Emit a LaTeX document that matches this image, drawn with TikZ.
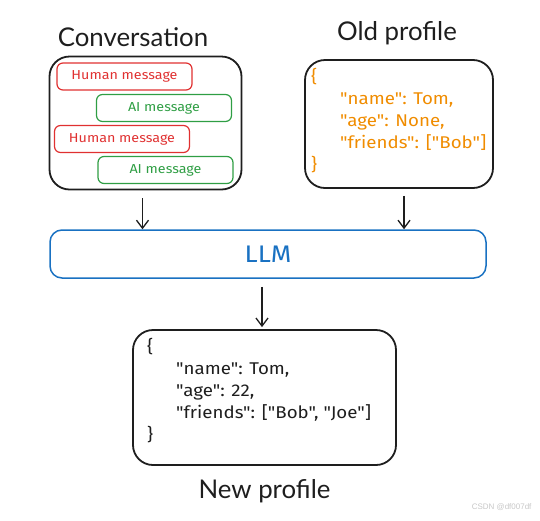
\documentclass[tikz,border=0pt]{standalone}
\usepackage{xcolor}
\usepackage{fontspec}
\usepackage{tikz}
\usetikzlibrary{arrows.meta, positioning}
\newfontfamily\titlefont{Lato}
\newfontfamily\handfont[FakeStretch=1.1]{Fira Sans}
\newfontfamily\markfont{Liberation Sans}
\definecolor{inkblack}{HTML}{1E1E1E}
\definecolor{inkred}{HTML}{E03131}
\definecolor{inkgreen}{HTML}{2F9E44}
\definecolor{inkblue}{HTML}{1971C2}
\definecolor{inkorange}{HTML}{F08C00}
\tikzstyle{panel} = [rectangle, rounded corners=20pt, line width=1.8pt, draw=inkblack, inner sep=0pt]
\tikzstyle{human} = [rectangle, rounded corners=6pt, minimum width=135pt, minimum height=27pt, text centered, line width=1.2pt, draw=inkred, text=inkred, font=\handfont\fontsize{13}{15}\selectfont]
\tikzstyle{ai} = [rectangle, rounded corners=6pt, minimum width=135pt, minimum height=27pt, text centered, line width=1.2pt, draw=inkgreen, text=inkgreen, font=\handfont\fontsize{13}{15}\selectfont]
\tikzstyle{model} = [rectangle, rounded corners=12pt, minimum width=436pt, minimum height=48pt, text centered, line width=1.5pt, draw=inkblue, text=inkblue, font=\handfont\fontsize{24}{26}\selectfont]
\tikzstyle{title} = [inner sep=0pt, text=inkblack, font=\titlefont\fontsize{25.8}{28}\selectfont]
\tikzstyle{json} = [inner sep=0pt, anchor=north west, align=left, font=\handfont\fontsize{17}{22}\selectfont]
\tikzstyle{arrow} = [line width=1.3pt, draw=inkblack, -{Straight Barb[length=8pt, width=12pt]}]

\begin{document}
\begin{tikzpicture}[x=1pt, y=-1pt]
        \useasboundingbox (0,0) rectangle (540,520);

        \node (conv) [panel, minimum width=192pt, minimum height=133pt] at (145.5,123) {};
        \node (old) [panel, minimum width=188pt, minimum height=128pt] at (399,124) {};
        \node (llm) [model] at (268,254) {LLM};
        \node (new) [panel, minimum width=263pt, minimum height=135pt] at (264.5,397.5) {};

        \node (convtitle) [title] at (133,37) {Conversation};
        \node (oldtitle) [title] at (397,33) {Old profile};
        \node (newtitle) [title, below=13pt of new] {New profile};

        \node (hum1) [human] at (124.5,76.5) {Human message};
        \node (ai1) [ai] at (164,108) {AI message};
        \node (hum2) [human] at (122,139) {Human message};
        \node (ai2) [ai] at (165.5,170) {AI message};

        \node (oldjson) [json, text=inkorange] at (311,68) {\{\\
            \hspace*{29pt}"name": Tom,\\
            \hspace*{29pt}"age": None,\\
            \hspace*{29pt}"friends": ["Bob"]\\
            \}};
        \node (newjson) [json, text=inkblack] at (147,338) {\{\\
            \hspace*{29pt}"name": Tom,\\
            \hspace*{29pt}"age": 22,\\
            \hspace*{29pt}"friends": ["Bob", "Joe"]\\
            \}};

        \node (mark) [anchor=east, text=black!22, font=\markfont\fontsize{8}{9}\selectfont] at (535,507) {CSDN @df007df};

        \draw [arrow, shorten <=8pt] ([xshift=-3pt]conv.south) -- ([xshift=-3pt]conv.south |- llm.north);
        \draw [arrow, shorten <=7pt] ([xshift=5pt]old.south) -- ([xshift=5pt]old.south |- llm.north);
        \draw [arrow, shorten <=8pt, shorten >=2pt] ([xshift=-6pt]llm.south) -- ([xshift=-6pt]llm.south |- new.north);
    \end{tikzpicture}
\end{document}
